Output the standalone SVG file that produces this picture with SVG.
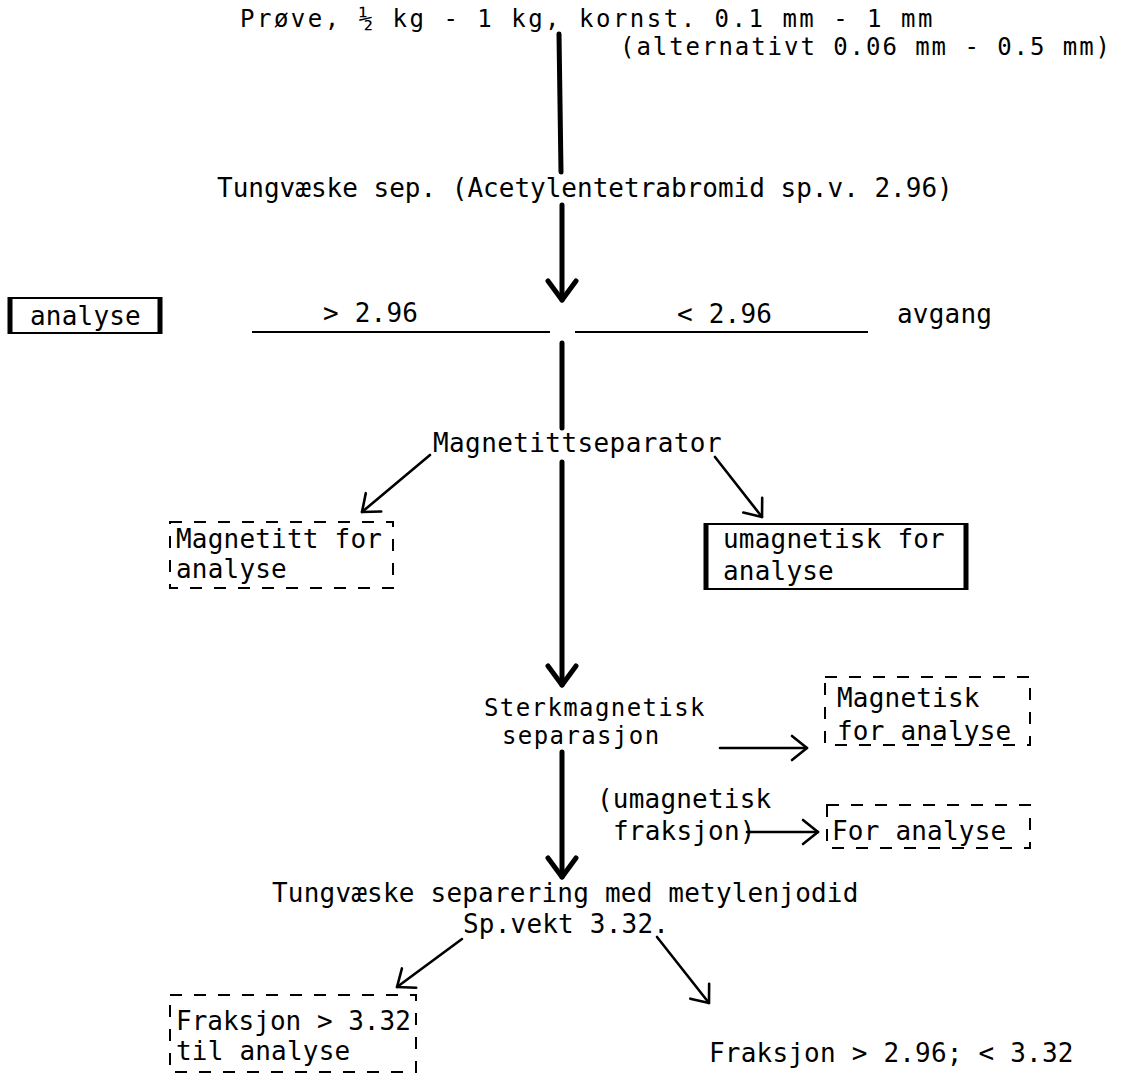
<svg xmlns="http://www.w3.org/2000/svg" width="1131" height="1075" viewBox="0 0 1131 1075">
<style>
.t{font-family:"DejaVu Sans Mono","Liberation Mono",monospace;font-size:26px;letter-spacing:0.2px;fill:#000}
.s{font-size:24px}
.thick{stroke:#000;stroke-width:5;fill:none;stroke-linecap:round}
.thin{stroke:#000;stroke-width:2.6;fill:none;stroke-linecap:round}
.rule{stroke:#000;stroke-width:2;fill:none}
.dash{stroke:#000;stroke-width:2;fill:none;stroke-dasharray:12 12}
.box{stroke:#000;stroke-width:2;fill:none}
.side{stroke:#000;stroke-width:5}
</style>
<defs>
<marker id="hk" markerUnits="userSpaceOnUse" viewBox="-26 -20 30 40" refX="0" refY="0" markerWidth="30" markerHeight="40" orient="auto" overflow="visible">
<path d="M-19,-14 L0,0 L-19,14" fill="none" stroke="#000" stroke-width="5" stroke-linecap="round" stroke-linejoin="round"/>
</marker>
<marker id="hn" markerUnits="userSpaceOnUse" viewBox="-22 -18 26 36" refX="0" refY="0" markerWidth="26" markerHeight="36" orient="auto" overflow="visible">
<path d="M-15,-12 L0,0 L-15,12" fill="none" stroke="#000" stroke-width="2.6" stroke-linecap="round" stroke-linejoin="round"/>
</marker>
</defs>
<rect width="1131" height="1075" fill="#fff"/>

<g id="connectors">
<path class="thick" d="M559,34 L561,172"/>
<path class="thick" d="M562,205 V300" marker-end="url(#hk)"/>
<path class="rule" d="M252,332 H550 M575,332 H868"/>
<path class="thick" d="M562,343 V428"/>
<path class="thick" d="M562,462 V685" marker-end="url(#hk)"/>
<path class="thin" d="M430,455 L362,512" marker-end="url(#hn)"/>
<path class="thin" d="M715,457 L762,517" marker-end="url(#hn)"/>
<path class="thick" d="M562,752 V877" marker-end="url(#hk)"/>
<path class="thin" d="M720,748 H807" marker-end="url(#hn)"/>
<path class="thin" d="M747,832 H818" marker-end="url(#hn)"/>
<path class="thin" d="M462,939 L397,987" marker-end="url(#hn)"/>
<path class="thin" d="M657,937 L709,1003" marker-end="url(#hn)"/>
</g>

<g id="n-sample">
<text class="t s" x="240" y="27" style="letter-spacing:2.5px">Prøve, ½ kg - 1 kg, kornst. 0.1 mm - 1 mm</text>
<text class="t s" x="620" y="55" style="letter-spacing:1.95px">(alternativt 0.06 mm - 0.5 mm)</text>
</g>
<g id="n-heavy1"><text class="t" x="217" y="197" style="letter-spacing:0">Tungvæske sep. (Acetylentetrabromid sp.v. 2.96)</text></g>
<g id="n-analyse">
<rect class="box" x="10" y="298" width="150" height="35"/>
<path class="side" d="M10,297 V334 M160,297 V334"/>
<text class="t" x="30" y="325">analyse</text>
</g>
<g id="n-gt"><text class="t" x="323" y="322">&gt; 2.96</text></g>
<g id="n-lt"><text class="t" x="677" y="323">&lt; 2.96</text></g>
<g id="n-avgang"><text class="t" x="897" y="323">avgang</text></g>
<g id="n-magsep"><text class="t" x="433" y="452" style="letter-spacing:0.4px">Magnetittseparator</text></g>
<g id="n-magnetitt">
<rect class="dash" x="170" y="522" width="223" height="66"/>
<text class="t" x="176" y="548">Magnetitt for</text>
<text class="t" x="176" y="578">analyse</text>
</g>
<g id="n-umag">
<rect class="box" x="706" y="524" width="260" height="65"/>
<path class="side" d="M706,523 V590 M966,523 V590"/>
<text class="t" x="723" y="548">umagnetisk for</text>
<text class="t" x="723" y="580">analyse</text>
</g>
<g id="n-sterk">
<text class="t s" x="484" y="716" style="letter-spacing:1.4px">Sterkmagnetisk</text>
<text class="t s" x="502" y="744" style="letter-spacing:1.4px">separasjon</text>
</g>
<g id="n-magnetisk">
<rect class="dash" x="825" y="677" width="205" height="68"/>
<text class="t" x="837" y="707">Magnetisk</text>
<text class="t" x="837" y="740">for analyse</text>
</g>
<g id="n-umagfrak">
<text class="t" x="597" y="808">(umagnetisk</text>
<text class="t" x="613" y="840">fraksjon)</text>
</g>
<g id="n-foranalyse">
<rect class="dash" x="827" y="805" width="203" height="43"/>
<text class="t" x="832" y="840">For analyse</text>
</g>
<g id="n-heavy2">
<text class="t" x="272" y="902">Tungvæske separering med metylenjodid</text>
<text class="t" x="463" y="933">Sp.vekt 3.32.</text>
</g>
<g id="n-frak332">
<rect class="dash" x="170" y="995" width="246" height="77"/>
<text class="t" x="176" y="1030" style="letter-spacing:0">Fraksjon &gt; 3.32</text>
<text class="t" x="176" y="1060">til analyse</text>
</g>
<g id="n-frak296"><text class="t" x="709" y="1062">Fraksjon &gt; 2.96; &lt; 3.32</text></g>
</svg>
